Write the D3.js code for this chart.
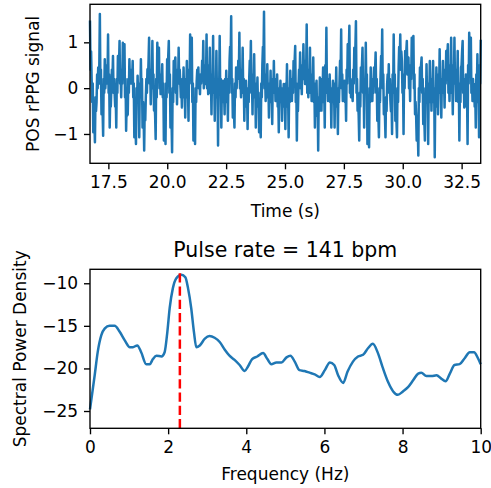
<!DOCTYPE html>
<html>
<head>
<meta charset="utf-8">
<script src="https://cdn.jsdelivr.net/npm/d3@7"></script>
<style>
  body { margin: 0; background: #fff; }
  text { font-family: "DejaVu Sans", sans-serif; fill: #000; }
</style>
</head>
<body>
<script>
// time window of the rPPG trace (s), samples are evenly spaced in it
const signalStart = 16.72;
const signalEnd = 33.31;

// POS rPPG signal (spikes plus the small wiggles between them)
const signalValues = [
  1.45, 0.4, 0.8, 0.2, -0.3, 0.1, -0.96, -0.4, -0.7, -1.18, -0.2, -0.5,
  -0.3, 0.3, 0.0, 0.45, 0.1, 0.5, 1.62, 0.1, 0.4, -0.57, -0.2, -0.5,
  -1.04, 0.2, -0.1, 0.63, 0.0, 0.3, 0.1, 0.5, 0.2, 1.17, -0.1, 0.3,
  -0.86, -0.2, -0.4, 0.0, 0.4, 0.2, 0.70, -0.1, 0.2, -0.1, -0.4, -0.2,
  -0.86, 0.2, -0.1, 0.70, 0.2, 0.5, 1.03, 0.1, 0.3, -0.20, 0.4, 0.1,
  0.99, 0.3, 0.6, 0.96, -0.2, 0.2, -0.93, -0.3, -0.6, -0.57, 0.2, -0.1,
  0.63, 0.1, 0.4, 0.1, 0.4, 0.2, 0.59, -0.2, 0.1, -1.07, -0.5, -0.8,
  -1.22, 0.0, -0.3, 0.27, -0.3, 0.0, -1.07, 0.1, -0.2, 0.63, -0.1, 0.2,
  -0.86, -0.3, -0.6, -1.36, -0.4, -0.7, -0.2, 0.2, -0.1, 0.41, 0.2, 0.6,
  1.10, 0.1, 0.4, -0.35, 0.3, 0.0, 1.03, 0.0, 0.3, -0.49, -0.3, -0.6,
  -1.11, 0.2, -0.2, 0.99, 0.4, 0.7, 0.88, 0.0, 0.3, -0.13, 0.3, 0.1,
  0.52, -0.2, 0.1, -1.14, -0.5, -0.8, -1.22, 0.1, -0.2, 0.63, 0.4, 0.7,
  1.03, -0.1, 0.3, -0.86, -0.4, -0.7, -1.40, 0.0, -0.3, 0.59, 0.2, 0.5,
  0.67, -0.1, 0.2, -0.35, 0.4, 0.1, 0.88, 0.1, 0.4, 0.1, -0.2, 0.0,
  -0.42, 0.2, -0.1, 0.45, -0.2, 0.1, -0.64, 0.2, -0.1, 0.59, -0.2, 0.1,
  -0.71, 0.4, 0.1, 1.17, 0.5, 0.8, 1.10, -0.3, 0.1, -1.14, -0.4, -0.7,
  -1.22, 0.0, -0.3, 0.16, 0.4, 0.2, 0.45, 0.0, 0.2, -0.13, 0.3, 0.1,
  0.23, 0.6, 0.3, 1.03, 0.0, 0.3, 0.09, 0.5, 0.2, 1.17, 0.0, 0.3,
  -0.13, 0.5, 0.2, 0.88, -0.1, 0.2, -0.57, 0.3, 0.0, 1.14, -0.1, 0.2,
  -0.71, 0.2, -0.1, 0.81, -0.2, 0.1, -1.25, 0.2, -0.1,
  1.14, -0.1, 0.2, -0.86, 0.1, -0.2, 0.16, -0.3, -0.1, -0.57, 0.2, -0.1,
  0.38, -0.3, 0.0, -0.71, 0.2, -0.1, 0.59, 0.9, 0.6, 1.57, -0.1, 0.2,
  -0.64, -0.2, -0.5, -0.86, 0.1, -0.2, 0.45, 0.0, 0.3, 0.20, 0.6, 0.3,
  1.21, 0.0, 0.3, -0.20, 0.4, 0.1, 0.88, -0.1, 0.2, -0.71, 0.0, -0.3,
  0.16, -0.4, -0.1, -0.89, 0.0, -0.3, 0.23, 0.6, 0.3, 1.03, -0.1, 0.2,
  -0.57, 0.3, 0.0, 0.74, -0.2, 0.1, -0.86, 0.1, -0.2, 0.23, -0.4, -0.1,
  -0.96, -0.4, -0.7, -1.07, 0.1, -0.2, 0.52, 0.9, 0.6, 1.67, 0.0, 0.3,
  -0.28, 0.3, 0.0, 0.52, -0.2, 0.1, -0.64, 0.1, -0.2, 0.38, -0.3, 0.0,
  -0.78, 0.2, -0.1, 0.59, -0.1, 0.2, -0.28, 0.2, -0.1, 0.30, -0.4, -0.1,
  -0.96, 0.0, -0.3, 0.16, -0.3, -0.1, -0.71, 0.0, -0.3, 0.09, -0.4, -0.1,
  -0.89, 0.1, -0.2, 0.52, -0.4, -0.1, -1.07, 0.0, -0.3, 0.38, -0.1, 0.2,
  -0.28, 0.2, -0.1, 0.59, 0.3, 0.6, 0.92, -0.3, 0.1, -1.14, -0.2, -0.5,
  0.01, 0.4, 0.2, 0.78, 0.0, 0.3, -0.13, 0.5, 0.2, 0.96, 0.2, 0.5,
  0.09, 0.6, 0.3, 1.39, -0.1, 0.3, -0.20, 0.4, 0.1, 0.88, -0.1, 0.2,
  -0.28, 0.3, 0.0, 0.67, -0.3, 0.1, -0.86, 0.0, -0.3, 0.16, -0.6, -0.2,
  -1.36, -0.2, -0.5, 0.23, -0.2, 0.1, -0.49, 0.2, -0.1, 0.45, -0.3, 0.0,
  -0.86, 0.5, 0.1, 1.32, -0.1, 0.2, -0.28, 0.1, -0.1, 0.30, -0.3, 0.0,
  -0.86, 0.0, -0.3, 0.16, -0.3, 0.0, -0.86, 0.1, -0.2, 0.45, -0.4, -0.1,
  -1.00, 0.0, -0.3, 0.16, 0.6, 0.3, 1.28, 0.0, 0.3, -0.28, 0.1, -0.1,
  0.16, -0.3, -0.1, -0.71, 0.4, 0.1, 0.96, 0.5, 0.8, 1.36, -0.1, 0.2,
  -0.20, 0.1, -0.1,
  -0.28, 0.4, 0.1, 0.88, 0.5, 0.9, 1.46, -0.1, 0.2, -0.49, -0.3, -0.6,
  -1.14, -0.1, -0.4, 0.45, 0.2, 0.5, 0.88, -0.1, 0.2, -0.86, 0.2, -0.1,
  0.99, 0.0, 0.3, -1.22, -0.6, -0.9, -1.29, 0.0, -0.3, 0.45, -0.1, 0.2,
  -0.28, 0.2, -0.1, 0.45, 0.1, 0.4, 0.78, -0.1, 0.2, -0.71, -0.3, -0.6,
  -1.07, 0.0, -0.3, 0.30, 0.7, 0.4, 1.28, 0.0, 0.3, -0.57, -0.3, -0.6,
  -1.07, -0.2, -0.5, 0.09, 0.3, 0.0, 0.52, -0.1, 0.2, -0.28, -0.5, -0.2,
  -1.00, 0.3, -0.1, 1.17, 0.0, 0.3, -0.71, -0.4, -0.7, -1.07, 0.0, -0.3,
  0.45, 0.9, 0.6, 1.17, 0.4, 0.8, 0.59, -0.1, 0.2, -1.00, 0.3, 0.0,
  0.81, 0.5, 0.8, 1.03, 0.3, 0.6, 0.67, 0.0, 0.3, -0.28, 0.5, 0.2,
  1.10, 0.6, 0.9, 1.14, 0.0, 0.3, -0.57, -0.3, -0.6, -1.14, -0.6, -0.9,
  -1.47, 0.0, -0.3, 0.45, 0.2, 0.5, 0.67, -0.1, 0.2, -0.78, -0.4, -0.7,
  -1.14, 0.0, -0.3, 0.52, -0.2, 0.1, -1.22, 0.0, -0.3, 0.59, -0.1, 0.2,
  -0.49, 0.2, -0.1, 0.59, -0.3, 0.0, -1.51, -0.1, -0.4, 0.45, -0.1, 0.2,
  -0.57, 0.3, 0.0, 0.85, -0.1, 0.2, -0.64, 0.2, -0.1, 0.59, -0.1, 0.2,
  -0.42, 0.4, 0.1, 0.81, 0.4, 0.7, 0.96, -0.1, 0.2, -0.28, 0.5, 0.2,
  1.10, -0.1, 0.2, -0.57, 0.5, 0.1, 1.10, 0.1, 0.4, -0.28, 0.4, 0.1,
  0.81, -0.3, 0.1, -1.14, 0.0, -0.3, 0.45, 0.5, 0.8, 1.03, -0.1, 0.2,
  -0.42, 0.2, -0.1, 0.30, -0.4, -0.1, -1.22, 0.5, 0.1, 1.21, 0.6, 0.9,
  1.10, -0.1, 0.2, -0.28, 0.2, -0.1, 0.09, -0.4, -0.1, -0.86, 0.3, 0.0,
  0.74, -0.3, 0.1, -1.07, 0.5, 0.1, 1.03
];
const timeTicks = [17.5, 20, 22.5, 25, 27.5, 30, 32.5];
const signalTicks = [-1, 0, 1];

// spectral power density
const psdFreqs = [
  0, 0.12, 0.2, 0.29, 0.38, 0.5, 0.63, 0.76, 0.89, 1.02,
  1.1, 1.21, 1.31, 1.44, 1.53, 1.61, 1.7, 1.83, 1.91, 1.98,
  2.04, 2.12, 2.21, 2.34, 2.44, 2.51, 2.59, 2.66, 2.72, 2.81,
  2.94, 3.06, 3.19, 3.32, 3.45, 3.57, 3.7, 3.83, 3.96, 4.04,
  4.15, 4.28, 4.43, 4.54, 4.64, 4.77, 4.9, 5.03, 5.13, 5.24,
  5.36, 5.49, 5.62, 5.75, 5.88, 6.01, 6.14, 6.25, 6.35, 6.48,
  6.59, 6.73, 6.86, 6.99, 7.12, 7.24, 7.37, 7.5, 7.63, 7.76,
  7.88, 8.01, 8.14, 8.27, 8.4, 8.48, 8.61, 8.74, 8.87, 8.99,
  9.1, 9.21, 9.33, 9.46, 9.59, 9.72, 9.83, 9.93, 10
];
const psdValues = [
  -24.8, -20.8, -18.0, -16.1, -15.3, -15.0, -15.0, -15.7, -16.7, -17.5,
  -17.5, -17.3, -18.1, -19.5, -19.5, -18.9, -18.5, -18.6, -18.1, -15.7,
  -12.9, -10.6, -9.4, -9.0, -9.3, -10.6, -12.9, -15.7, -17.5, -17.3,
  -16.5, -16.2, -16.4, -16.9, -17.8, -18.5, -19.0, -19.6, -20.3, -19.8,
  -18.9, -18.6, -18.2, -18.9, -19.5, -19.3, -19.3, -18.7, -18.5, -19.2,
  -20.2, -20.3, -20.5, -20.7, -21.0, -20.2, -19.3, -19.6, -20.8, -21.7,
  -20.4, -19.2, -18.6, -18.4, -17.6, -17.1, -18.2, -20.0, -21.6, -22.7,
  -23.1, -22.7, -22.2, -21.4, -20.6, -20.5, -20.9, -20.9, -20.8, -21.2,
  -21.5, -20.6, -19.6, -19.5, -18.8, -18.1, -18.1, -18.8, -19.5
];
const freqTicks = [0, 2, 4, 6, 8, 10];
const psdTicks = [-25, -20, -15, -10];

const pulseFreq = 2.3;
const pulseBpm = 141;

const width = 491;
const height = 488;
const blue = '#1f77b4';
const fontSize = 17;

const svg = d3.select('body').append('svg')
  .attr('width', width)
  .attr('height', height);

function drawAxes(box, x, y, xTicks, yTicks, xFmt, yFmt) {
  const g = svg.append('g');
  g.append('g')
    .attr('transform', `translate(0,${box.bottom})`)
    .call(d3.axisBottom(x).tickValues(xTicks).tickFormat(xFmt)
      .tickSize(6).tickSizeOuter(0).tickPadding(6.9))
    .call(a => a.select('.domain').remove());
  g.append('g')
    .attr('transform', `translate(${box.left},0)`)
    .call(d3.axisLeft(y).tickValues(yTicks).tickFormat(yFmt)
      .tickSize(6).tickSizeOuter(0).tickPadding(5.8))
    .call(a => a.select('.domain').remove());
  g.selectAll('.tick line').attr('stroke', '#000').attr('stroke-width', 1.36);
  g.selectAll('.tick text')
    .attr('font-size', fontSize)
    .attr('font-family', '"DejaVu Sans", sans-serif')
    .attr('fill', '#000');
  return g;
}

function frame(box) {
  svg.append('rect')
    .attr('x', box.left)
    .attr('y', box.top)
    .attr('width', box.right - box.left)
    .attr('height', box.bottom - box.top)
    .attr('fill', 'none')
    .attr('stroke', '#000')
    .attr('stroke-width', 1.36);
}

// top panel: signal
const topBox = { left: 90, right: 480.7, top: 4.3, bottom: 163.3 };
const xTime = d3.scaleLinear().domain([signalStart, signalEnd]).range([topBox.left, topBox.right]);
const ySig = d3.scaleLinear().domain([-1.64, 1.83]).range([topBox.bottom, topBox.top]);
const step = (signalEnd - signalStart) / (signalValues.length - 1);

drawAxes(topBox, xTime, ySig, timeTicks, signalTicks, d3.format('.1f'), d3.format('d'));

svg.append('path')
  .datum(signalValues)
  .attr('fill', 'none')
  .attr('stroke', blue)
  .attr('stroke-width', 2.5)
  .attr('stroke-linejoin', 'round')
  .attr('stroke-linecap', 'square')
  .attr('d', d3.line()
    .x((d, i) => xTime(signalStart + i * step))
    .y(d => ySig(d)));

frame(topBox);

svg.append('text')
  .attr('transform', `translate(38.5,${(topBox.top + topBox.bottom) / 2}) rotate(-90)`)
  .attr('text-anchor', 'middle')
  .attr('font-size', fontSize)
  .text('POS rPPG signal');

svg.append('text')
  .attr('x', (topBox.left + topBox.right) / 2)
  .attr('y', 216.5)
  .attr('text-anchor', 'middle')
  .attr('font-size', fontSize)
  .text('Time (s)');

// bottom panel: spectrum
const botBox = { left: 90, right: 480.7, top: 269.3, bottom: 428.3 };
const xFreq = d3.scaleLinear().domain([0, 10]).range([botBox.left, botBox.right]);
const yPsd = d3.scaleLinear().domain([-27.03, -8.36]).range([botBox.bottom, botBox.top]);

drawAxes(botBox, xFreq, yPsd, freqTicks, psdTicks, d3.format('d'), d3.format('d'));

svg.append('path')
  .datum(psdFreqs.map((f, i) => [f, psdValues[i]]))
  .attr('fill', 'none')
  .attr('stroke', blue)
  .attr('stroke-width', 2.5)
  .attr('stroke-linejoin', 'round')
  .attr('d', d3.line()
    .curve(d3.curveMonotoneX)
    .x(d => xFreq(d[0]))
    .y(d => yPsd(d[1])));

svg.append('line')
  .attr('x1', xFreq(pulseFreq))
  .attr('x2', xFreq(pulseFreq))
  .attr('y1', botBox.bottom)
  .attr('y2', botBox.top)
  .attr('stroke', 'red')
  .attr('stroke-width', 2.5)
  .attr('stroke-dasharray', '9.25,4');

frame(botBox);

svg.append('text')
  .attr('x', (botBox.left + botBox.right) / 2)
  .attr('y', 257.3)
  .attr('text-anchor', 'middle')
  .attr('font-size', 20.5)
  .text(`Pulse rate = ${pulseBpm} bpm`);

svg.append('text')
  .attr('transform', `translate(26,${(botBox.top + botBox.bottom) / 2}) rotate(-90)`)
  .attr('text-anchor', 'middle')
  .attr('font-size', fontSize)
  .text('Spectral Power Density');

svg.append('text')
  .attr('x', (botBox.left + botBox.right) / 2)
  .attr('y', 480)
  .attr('text-anchor', 'middle')
  .attr('font-size', fontSize)
  .text('Frequency (Hz)');
</script>
</body>
</html>
